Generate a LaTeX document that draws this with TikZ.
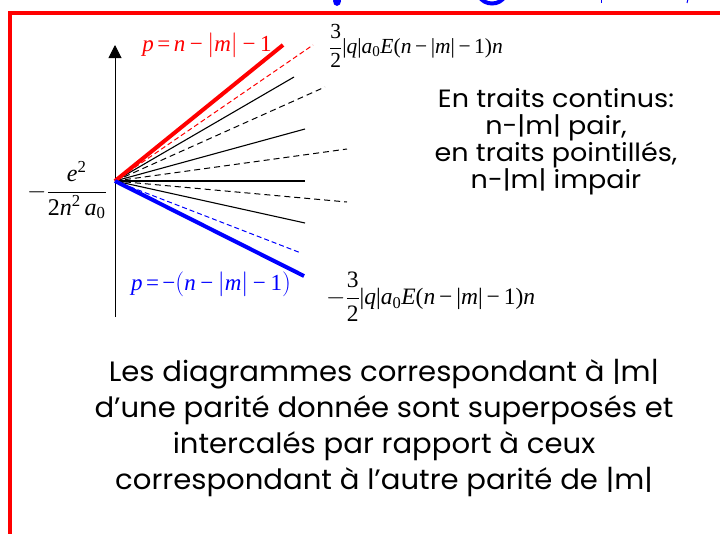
\documentclass[tikz,border=0pt]{standalone}
\usepackage{fontspec}
\setmainfont{Liberation Serif}
\newfontfamily\comicfont[FakeStretch=1.08]{Poppins}
\newfontfamily\comicfontb[FakeStretch=1.04]{Poppins}
\usetikzlibrary{arrows.meta}
\newcommand\mn{\,−\,}
\newcommand\bmn{\hspace{0.2em}−\hspace{0.2em}}
\begin{document}
\begin{tikzpicture}[x=1pt,y=-1pt,
  thinsolid/.style={black,line width=1.1pt},
  thindash/.style={black,line width=1pt,dash pattern=on 6pt off 4pt},
  thick red/.style={red,line width=4pt},
  thick blue/.style={blue,line width=4pt},
  mathlbl/.style={inner sep=0pt,font=\fontsize{21.5}{26}\selectfont},
  mathlblb/.style={inner sep=0pt,font=\fontsize{23.5}{28}\selectfont},
  plbl/.style={inner sep=0pt,font=\fontsize{23}{27}\selectfont},
  comictext/.style={align=center,inner sep=0pt,font=\comicfont\fontsize{25}{27}\selectfont},
  bigtext/.style={align=center,inner sep=0pt,font=\comicfontb\fontsize{28}{36}\selectfont}]
\useasboundingbox (0,0) rectangle (720,533);
% title remnants
\begin{scope}
\clip (0,0) rectangle (720,11);
\fill[blue] (337,1) ellipse (4 and 5);
\draw[blue,line width=4pt] (479,-4) .. controls (484,6) and (500,6) .. (505,-4);
\draw[blue,line width=1pt] (601,-1) -- (601,3);
\draw[blue,line width=1pt] (688,-1) -- (687,3);
\end{scope}
% frame
\draw[red,line width=4pt] (10,540) -- (10,13) -- (725,13);
% axis
\coordinate (O) at (115,181);
\coordinate (axb) at (115,317);
\coordinate (axt) at (115,45);
\draw[line width=1pt,-{Triangle[length=13pt,width=13pt]}] (axb) -- (axt);
% ends
\coordinate (r1) at (283,45);
\coordinate (r2) at (313,45);
\coordinate (k1) at (294,77);
\coordinate (k2) at (325,87);
\coordinate (k3) at (305,129);
\coordinate (k4) at (347,149);
\coordinate (k5) at (305,181);
\coordinate (k6) at (347,202);
\coordinate (k7) at (305,223);
\coordinate (b2) at (301,253);
\coordinate (b1) at (304,276);
\draw[thinsolid] (O) -- (k1);
\draw[thindash] (O) -- (k2);
\draw[thinsolid] (O) -- (k3);
\draw[thindash] (O) -- (k4);
\draw[thinsolid] (O) -- (k5);
\draw[thindash] (O) -- (k6);
\draw[thinsolid] (O) -- (k7);
\draw[red,line width=1pt,dash pattern=on 5pt off 3pt] (O) -- (r2);
\draw[blue,line width=1pt,dash pattern=on 5pt off 3pt] (O) -- (b2);
\draw[thick red] (O) -- (r1);
\draw[thick blue] (O) -- (b1);
% labels
\node[plbl,text=red] (pr) at (207,45) {\textit{p}\hspace{0.15em}=\hspace{0.15em}\textit{n}\bmn$\bigl|$\textit{m}$\bigr|$\bmn1};
\node[plbl,text=blue] (pb) at (211,284) {\textit{p}\hspace{0.15em}=\hspace{0.15em}−$\bigl($\textit{n}\bmn$\bigl|$\textit{m}$\bigr|$\bmn1$\bigr)$};
\node[mathlbl,anchor=west] (et) at (329,46) {$\displaystyle\frac{\mbox{3}}{\mbox{2}}$|\textit{q}|\textit{a}\textsubscript{0}\textit{E}(\textit{n}\mn|\textit{m}|\mn1)\textit{n}};
\node[mathlblb,anchor=west] (eb) at (326,297) {$-\displaystyle\frac{\mbox{3}}{\mbox{2}}$|\textit{q}|\textit{a}\textsubscript{0}\textit{E}(\textit{n}\mn|\textit{m}|\mn1)\textit{n}};
\node[inner sep=0pt,font=\fontsize{24}{28}\selectfont] (e0) at (67,190) {$-\displaystyle\frac{\mbox{\textit{e}\textsuperscript{2}}}{\mbox{2\textit{n}\textsuperscript{2}\,\textit{a}\textsubscript{0}}}$};
\node[comictext] (legend) at (556,142) {En traits continus:\\ n-|m| pair,\\ en traits pointillés,\\ n-|m| impair};
\node[bigtext] (concl) at (384,428) {Les diagrammes correspondant à |m|\\ d’une parité donnée sont superposés et\\ intercalés par rapport à ceux\\ correspondant à l’autre parité de |m|};
\end{tikzpicture}
\end{document}
